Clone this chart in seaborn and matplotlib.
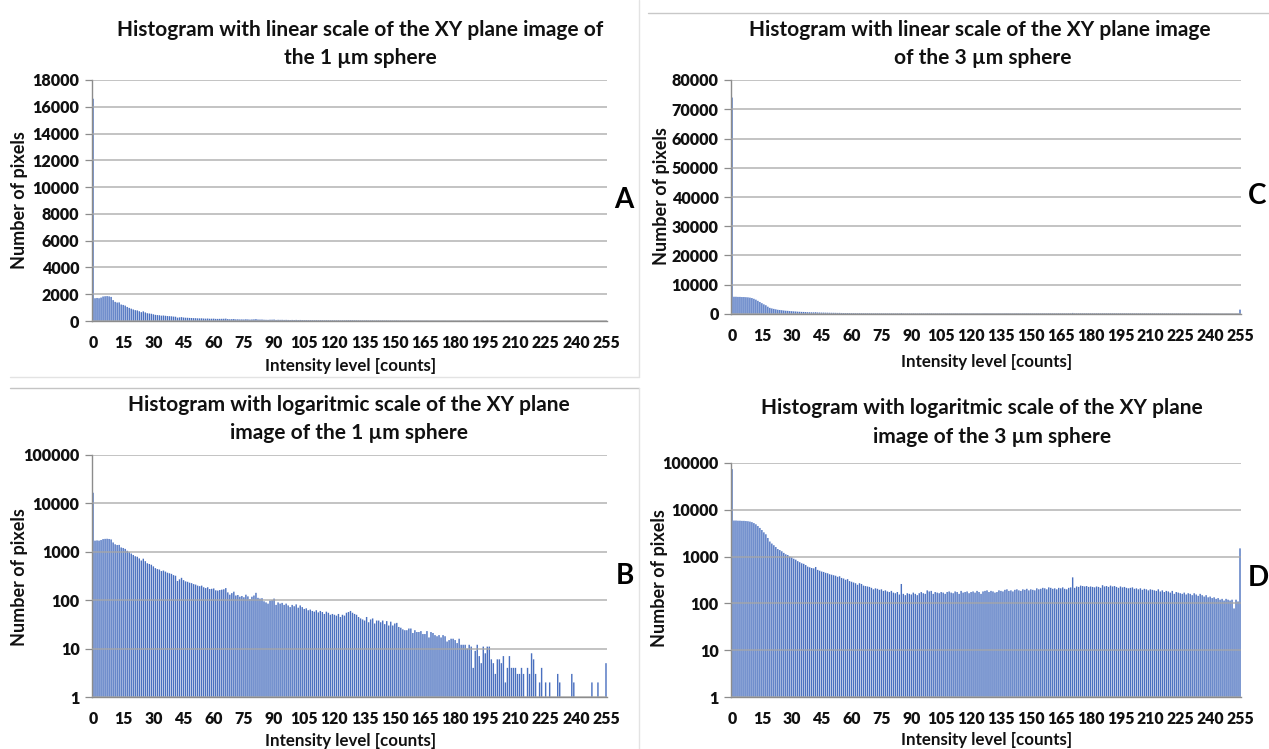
import matplotlib
matplotlib.use("Agg")
import matplotlib.pyplot as plt
from matplotlib.lines import Line2D
import seaborn as sns
import numpy as np

# ---------------- data ----------------
levels = list(range(256))

counts_1um = [
    16600, 1700, 1720, 1700, 1750, 1830, 1850, 1860, 1840, 1800,
    1560, 1430, 1380, 1390, 1230, 1200, 1150, 1050, 980, 920,
    860, 810, 790, 730, 660, 720, 640, 580, 560, 540,
    500, 460, 440, 430, 400, 410, 390, 370, 360, 350,
    330, 320, 250, 270, 290, 260, 245, 240, 230, 225,
    215, 210, 200, 195, 200, 185, 178, 185, 170, 172,
    175, 160, 158, 162, 165, 168, 178, 145, 130, 140,
    150, 125, 128, 118, 122, 115, 130, 120, 105, 118,
    125, 142, 112, 108, 110, 95, 90, 85, 98, 100,
    108, 80, 90, 85, 88, 80, 85, 78, 72, 80,
    75, 82, 70, 78, 72, 66, 68, 62, 64, 60,
    58, 62, 56, 60, 57, 52, 58, 55, 50, 52,
    50, 48, 52, 45, 50, 48, 55, 57, 60, 55,
    52, 50, 45, 42, 40, 38, 45, 35, 40, 42,
    33, 38, 38, 35, 38, 32, 37, 30, 36, 30,
    33, 34, 28, 27, 25, 24, 24, 26, 26, 21,
    24, 22, 22, 23, 20, 20, 23, 17, 22, 21,
    19, 18, 19, 17, 19, 18, 14, 15, 16, 16,
    15, 13, 16, 12, 12, 12, 10, 12, 11, 4,
    9, 12, 7, 5, 11, 8, 11, 11, 6, 5,
    3, 6, 6, 5, 7, 2, 4, 7, 4, 4,
    4, 3, 3, 4, 3, 0, 4, 3, 8, 6,
    3, 0, 2, 4, 0, 2, 0, 2, 0, 0,
    0, 3, 2, 0, 0, 0, 0, 0, 3, 2,
    0, 0, 0, 0, 0, 0, 0, 0, 2, 0,
    0, 2, 0, 0, 0, 5,
]

counts_3um = [
    74000, 5900, 5900, 5850, 5850, 5800, 5800, 5750, 5700, 5600,
    5450, 5200, 4900, 4500, 4100, 3700, 3300, 3000, 2500, 2100,
    1900, 1750, 1600, 1450, 1380, 1300, 1200, 1120, 1080, 1000,
    960, 900, 860, 800, 760, 720, 700, 660, 610, 590,
    570, 560, 600, 520, 500, 480, 470, 450, 440, 420,
    410, 400, 390, 370, 380, 350, 340, 320, 330, 300,
    290, 280, 270, 250, 270, 260, 240, 235, 230, 225,
    215, 200, 210, 205, 195, 200, 185, 190, 180, 175,
    185, 170, 165, 175, 155, 260, 160, 150, 165, 160,
    155, 170, 160, 150, 165, 175, 165, 160, 190, 180,
    185, 160, 175, 170, 165, 175, 170, 160, 175, 180,
    170, 165, 180, 175, 160, 185, 170, 175, 180, 165,
    175, 180, 170, 185, 175, 160, 180, 185, 190, 175,
    185, 180, 170, 175, 190, 185, 180, 195, 200, 185,
    190, 180, 195, 200, 190, 185, 200, 195, 205, 190,
    200, 195, 190, 210, 200, 205, 215, 210, 200, 220,
    215, 205, 210, 200, 215, 210, 220, 205, 200, 215,
    220, 360, 215, 230, 225, 240, 235, 230, 235, 225,
    230, 225, 220, 230, 225, 215, 245, 230, 235, 225,
    240, 230, 235, 225, 215, 230, 220, 225, 215, 210,
    215, 220, 205, 210, 200, 210, 195, 205, 200, 190,
    200, 195, 190, 185, 200, 180, 190, 175, 185, 180,
    170, 185, 160, 175, 170, 165, 160, 170, 155, 165,
    160, 150, 165, 155, 145, 160, 150, 140, 150, 135,
    140, 130, 135, 125, 130, 120, 125, 115, 125, 120,
    115, 120, 78, 120, 110, 1500,
]

x_tick_labels = [str(v) for v in range(0, 256, 15)]
lin_ticks_1um = list(range(0, 18001, 2000))
lin_ticks_3um = list(range(0, 80001, 10000))
log_ticks = [1, 10, 100, 1000, 10000, 100000]

titles = {
    "A": ("Histogram with linear scale of the XY plane image of", "the 1 \u00b5m sphere"),
    "C": ("Histogram with linear scale of the XY plane image", "of the 3 \u00b5m sphere"),
    "B": ("Histogram with logaritmic scale of the XY plane", "image of the 1 \u00b5m sphere"),
    "D": ("Histogram with logaritmic scale of the XY plane", "image of the 3 \u00b5m sphere"),
}
xlabel = "Intensity level [counts]"
ylabel = "Number of pixels"

# ---------------- style ----------------
sns.set_theme(style="white")
plt.rcParams["font.family"] = ["Lato", "DejaVu Sans"]
plt.rcParams["font.weight"] = "bold"

W, H = 1269, 749
DPI = 100
fig = plt.figure(figsize=(W / DPI, H / DPI), dpi=DPI)
fig.patch.set_facecolor("white")

BAR = "#4a70bf"
GRID = "#a6a6a6"
AXC = "#8c8c8c"
TXT = "#111111"


def rect(x0, x1, ytop, ybot):
    return [x0 / W, 1 - ybot / H, (x1 - x0) / W, (ybot - ytop) / H]


def ftext(x, y, s, **kw):
    fig.text(x / W, 1 - y / H, s, ha=kw.pop("ha", "center"), va=kw.pop("va", "center"),
             color=kw.pop("color", TXT), fontweight="bold", **kw)


def panel(box, counts, log, yticks):
    ax = fig.add_axes(rect(*box))
    sns.barplot(x=levels, y=counts, ax=ax, color=BAR, saturation=1,
                width=0.7, linewidth=0, errorbar=None, zorder=2)
    for p in ax.patches:
        p.set_snap(False)
        p.set_antialiased(True)
    if log:
        ax.set_yscale("log")
        ax.set_ylim(1, 100000)
        ax.yaxis.set_minor_locator(matplotlib.ticker.NullLocator())
    else:
        ax.set_ylim(yticks[0], yticks[-1])
    ax.set_yticks(yticks)
    ax.set_yticklabels([str(t) for t in yticks])
    ax.set_xlim(-0.5, 255.5)
    ax.set_xticks(range(256))
    ax.set_xticklabels([str(v) if v % 15 == 0 else "" for v in levels])
    ax.set_xlabel("")
    ax.set_ylabel("")
    ax.yaxis.grid(True, color=GRID, lw=1.1, zorder=3, alpha=0.85)
    ax.xaxis.grid(False)
    ax.set_axisbelow(False)
    for s in ("top", "right"):
        ax.spines[s].set_visible(False)
    for s in ("left", "bottom"):
        ax.spines[s].set_color(AXC)
        ax.spines[s].set_linewidth(1.0)
    ax.tick_params(axis="x", length=4, width=0.6, color="#b0b0b0", pad=6,
                   labelsize=11.3, labelcolor=TXT)
    ax.tick_params(axis="y", length=5, width=0.9, color=AXC, pad=4,
                   labelsize=11.6, labelcolor=TXT, left=True)
    for lab in ax.get_xticklabels() + ax.get_yticklabels():
        lab.set_fontweight("heavy")
    return ax


panel((92, 607, 80, 321), counts_1um, False, lin_ticks_1um)
panel((731, 1241, 80, 314), counts_3um, False, lin_ticks_3um)
panel((92, 607, 455, 697), counts_1um, True, log_ticks)
panel((731, 1241, 463, 697), counts_3um, True, log_ticks)

# titles
TS = 15.0
ftext(360, 30, titles["A"][0], fontsize=TS)
ftext(360, 58, titles["A"][1], fontsize=TS)
ftext(980, 30, titles["C"][0], fontsize=TS)
ftext(983, 58, titles["C"][1], fontsize=TS)
ftext(349, 405, titles["B"][0], fontsize=TS)
ftext(349, 433, titles["B"][1], fontsize=TS)
ftext(982, 408, titles["D"][0], fontsize=TS)
ftext(992, 437, titles["D"][1], fontsize=TS)

# axis labels
LS = 12.2
ftext(351, 366, xlabel, fontsize=LS)
ftext(987, 362, xlabel, fontsize=LS)
ftext(351, 741, xlabel, fontsize=LS)
ftext(987, 740, xlabel, fontsize=LS)
YS = 13.0
ftext(20, 200, ylabel, fontsize=YS, rotation=90)
ftext(661, 196, ylabel, fontsize=YS, rotation=90)
ftext(20, 577, ylabel, fontsize=YS, rotation=90)
ftext(660, 578, ylabel, fontsize=YS, rotation=90)

# panel letters
PL = 20
ftext(624, 200, "A", fontsize=PL, color="black")
ftext(625, 576, "B", fontsize=PL, color="black")
ftext(1248, 196, "C", fontsize=PL, color="black", ha="left")
ftext(1248, 578, "D", fontsize=PL, color="black", ha="left")

# chart frames (separators)
def fline(xs, ys, color, lw=1.0):
    fig.add_artist(Line2D([x / W for x in xs], [1 - y / H for y in ys],
                          color=color, lw=lw, transform=fig.transFigure))

fline([10, 639], [377, 377], "#e3e3e3")
fline([639, 639], [0, 377], "#e3e3e3")
fline([10, 639], [388, 388], "#c4c4c4")
fline([639, 639], [388, 749], "#e3e3e3")
fline([648, 1269], [12.5, 12.5], "#c8c8c8")

fig.savefig("out.png", dpi=DPI, facecolor="white")
